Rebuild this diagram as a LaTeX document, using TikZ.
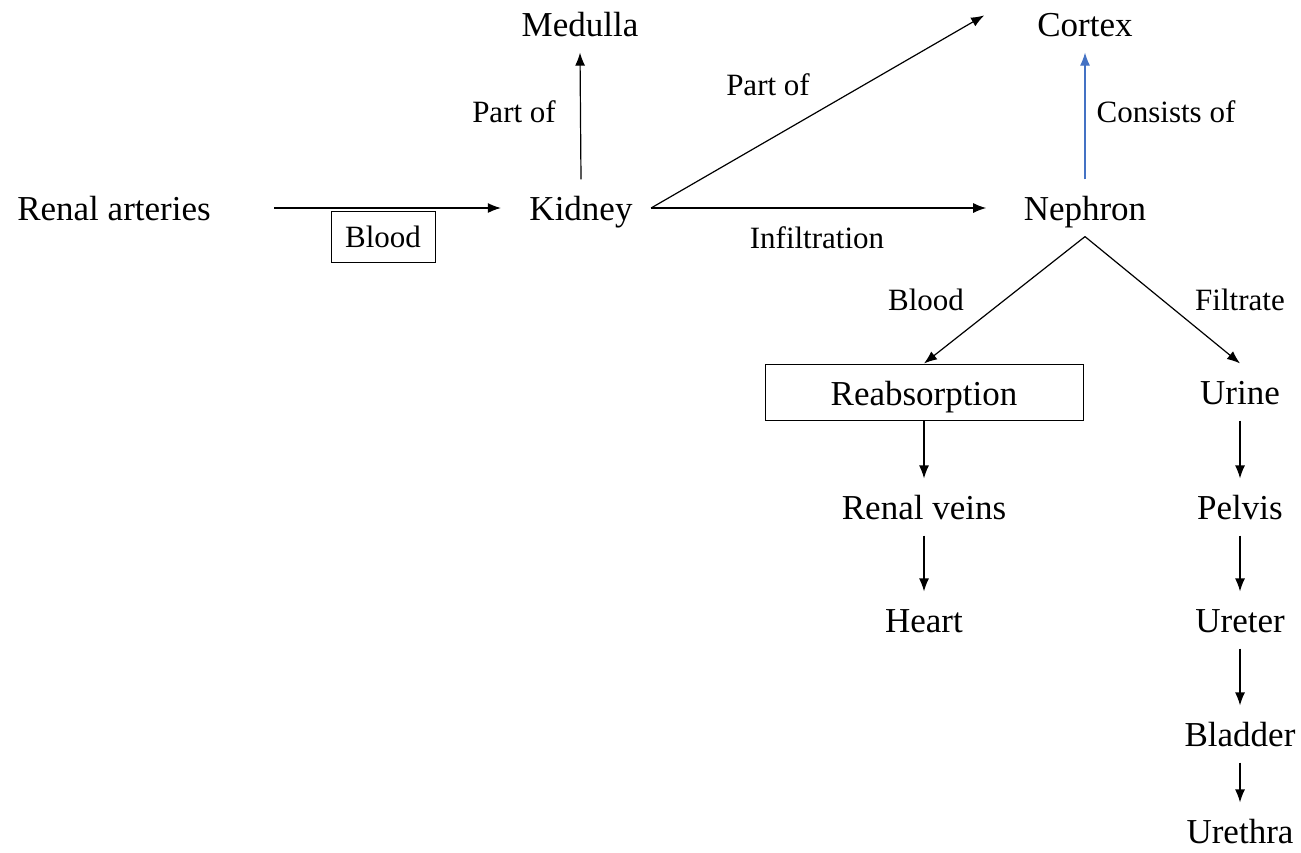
\documentclass[tikz,border=0pt]{standalone}
\usepackage{fontspec}
\setmainfont{Liberation Serif}
\usetikzlibrary{arrows.meta}
\definecolor{linkblue}{HTML}{4472C4}

\begin{document}
\begin{tikzpicture}[x=1pt,y=-1pt,line width=1.2pt,-{Latex[length=13pt,width=10pt]}]
    \tikzstyle{term}=[font=\fontsize{35}{38}\selectfont,inner xsep=18pt,inner ysep=10pt,text height=30pt,text depth=6pt]
    \tikzstyle{lbl}=[font=\fontsize{31}{34}\selectfont,inner sep=0pt]
    \tikzstyle{box}=[draw,line width=1pt,inner sep=0pt,text depth=0pt]
    \useasboundingbox (0,0) rectangle (1301,852);

    % top row
    \node[term] (ra)  at (114,208) {Renal arteries};
    \node[term] (kid) at (581,208) {Kidney};
    \node[term] (med) at (580,24)  {Medulla};
    \node[term] (cor) at (1085,24) {Cortex};
    \node[term] (nep) at (1085,208) {Nephron};

    % blood side
    \node[box,font=\fontsize{35}{38}\selectfont,text height=26pt,minimum width=318pt,minimum height=56pt] (rea) at (924,392) {Reabsorption};
    \node[term] (rv) at (924,507) {Renal veins};
    \node[term] (hrt) at (924,620) {Heart};

    % filtrate side
    \foreach \name/\txt/\y in {uri/Urine/392, pel/Pelvis/507, ure/Ureter/620, bla/Bladder/734, uth/Urethra/831}
            \node[term] (\name) at (1240,\y) {\txt};

    % labels
    \node[box,font=\fontsize{31}{34}\selectfont,text height=20pt,minimum width=104pt,minimum height=51pt] (bl) at (383,237) {Blood};
    \node[lbl] (l-med) at (514,112) {Part of};
    \node[lbl] (l-cor) at (768,85)  {Part of};
    \node[lbl] (l-inf) at (817,238) {Infiltration};
    \node[lbl] (l-con) at (1166,112) {Consists of};
    \node[lbl] (l-bld) at (926,300) {Blood};
    \node[lbl] (l-fil) at (1240,300) {Filtrate};

    \draw[shorten <=45pt,shorten >=10pt] (ra.east) -- (kid.west);
    \draw (kid.north) -- (med.south);
    \draw[shorten >=40pt] (kid.east) -- (cor.north west);
    \draw[shorten >=19pt] (kid.east) -- (nep.west);
    \draw[linkblue] (nep.north) -- (cor.south);
    \draw (nep.south) -- (rea.north);
    \draw (nep.south) -- (uri.north);

    \foreach \from/\to in {rea/rv, rv/hrt, uri/pel, pel/ure, ure/bla, bla/uth}
        \draw (\from.south) -- (\to.north);
\end{tikzpicture}
\end{document}
